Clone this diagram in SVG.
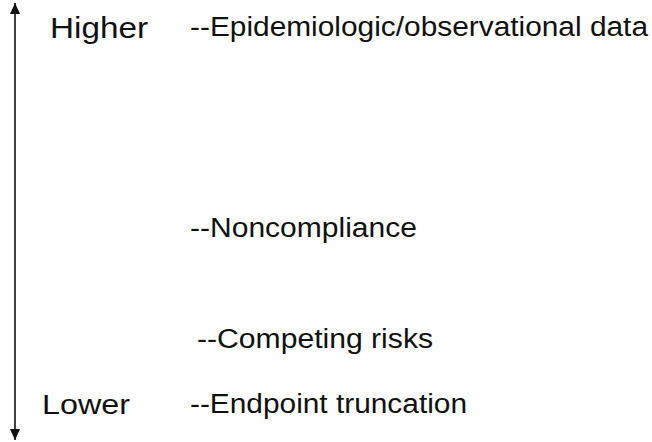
<svg xmlns="http://www.w3.org/2000/svg" width="652" height="442" viewBox="0 0 652 442">
<style>
text{font-family:"Liberation Sans",Arial,sans-serif;font-size:27px;fill:#111}
.ax{stroke:#111;stroke-width:1.6;fill:none}
</style>
<defs>
<marker id="ah" viewBox="0 0 11 10" refX="11" refY="5" markerWidth="11" markerHeight="10" markerUnits="userSpaceOnUse" orient="auto-start-reverse">
<path d="M0,0 L11,5 L0,10 z" fill="#111"/>
</marker>
</defs>
<rect width="652" height="442" fill="#fff"/>
<g id="connectors">
<line class="ax" x1="15" y1="3" x2="15" y2="440" marker-start="url(#ah)" marker-end="url(#ah)"/>
</g>
<g id="higher"><text x="50" y="38" style="font-size:29px" textLength="98" lengthAdjust="spacingAndGlyphs">Higher</text></g>
<g id="lower"><text x="42" y="414" style="font-size:28px" textLength="88" lengthAdjust="spacingAndGlyphs">Lower</text></g>
<g id="epidemiologic"><text x="190" y="36" textLength="458" lengthAdjust="spacingAndGlyphs">--Epidemiologic/observational data</text></g>
<g id="noncompliance"><text x="190" y="237" textLength="227" lengthAdjust="spacingAndGlyphs">--Noncompliance</text></g>
<g id="competing"><text x="197" y="348" textLength="236" lengthAdjust="spacingAndGlyphs">--Competing risks</text></g>
<g id="endpoint"><text x="190" y="413" textLength="277" lengthAdjust="spacingAndGlyphs">--Endpoint truncation</text></g>
</svg>
